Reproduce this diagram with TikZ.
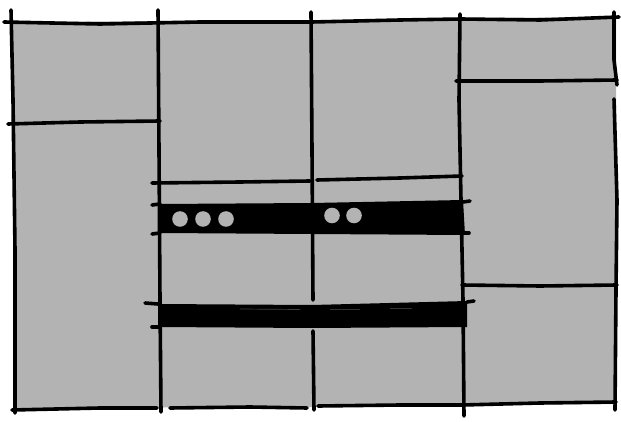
\documentclass[tikz,border=0pt]{standalone}
\begin{document}
\begin{tikzpicture}[x=1pt,y=-1pt,
  ink/.style={line width=3.6pt,line cap=round,line join=round,black},
  band/.style={fill=black},
  hole/.style={fill=panel}]
\definecolor{panel}{HTML}{B3B3B3}
\useasboundingbox (0,0) rectangle (621,422);
\fill[white] (0,0) rectangle (621,422);
% grey panel
\fill[panel] (13,22) -- (160,21) -- (312,21) -- (461,18) -- (616,17) -- (616,404) -- (462,405) -- (312,407) -- (14,408) -- cycle;
% outer frame
\draw[ink] (4,22) -- (100,24) -- (200,22) -- (312,22) -- (400,20) -- (461,19) -- (540,20) -- (619,17);
\draw[ink] (12,410) -- (100,408) -- (157,408);
\draw[ink] (170,408) -- (250,407) -- (307,408);
\draw[ink] (318,406) -- (400,405) -- (462,405) -- (540,403) -- (616,402);
% verticals
\draw[ink] (11,10) -- (13,100) -- (15,250) -- (15,413);
\draw[ink] (158,10) -- (159,150) -- (160,300) -- (161,412);
\draw[ink] (311,12) -- (312,150) -- (313,300);
\draw[ink] (313,331) -- (314,410);
\draw[ink] (460,14) -- (459,100) -- (461,200) -- (463,300) -- (464,416);
\draw[ink] (614,12) -- (614,60) -- (617,85);
\draw[ink] (614,99) -- (617,200) -- (616,290) -- (615,410);
% horizontals
\draw[ink] (8,124) -- (80,122) -- (160,121);
\draw[ink] (456,81) -- (540,81) -- (617,80);
\draw[ink] (462,285) -- (540,286) -- (617,285);
\draw[ink] (152,183) -- (240,182) -- (310,181);
\draw[ink] (317,180) -- (400,178) -- (462,176);
% black band 1
\fill[band] (160,204) -- (312,203) -- (463,200) -- (465,235) -- (312,234) -- (160,233) -- cycle;
\draw[ink] (152,205) -- (160,204);
\draw[ink] (152,234) -- (160,233);
\draw[ink] (463,202) -- (470,201);
\draw[ink] (463,233) -- (469,233);
\fill[hole] (180,219) circle (7.8);
\fill[hole] (203,219) circle (7.8);
\fill[hole] (226,219) circle (7.8);
\fill[hole] (332,215.5) circle (7.8);
\fill[hole] (354,215.5) circle (7.8);
% black band 2
\fill[band] (158,304) -- (312,305) -- (467,301) -- (467,327) -- (312,328) -- (158,327) -- cycle;
\draw[ink] (145,303) -- (158,304);
\draw[ink] (467,302) -- (474,301);
\draw[ink] (152,327) -- (160,327);
\draw[line width=0.7pt,black!75] (240,309) -- (300,309.5);
\draw[line width=0.5pt,black!80] (330,309) -- (360,309);
\draw[line width=0.5pt,black!80] (390,308.5) -- (412,308.5);
\end{tikzpicture}
\end{document}
